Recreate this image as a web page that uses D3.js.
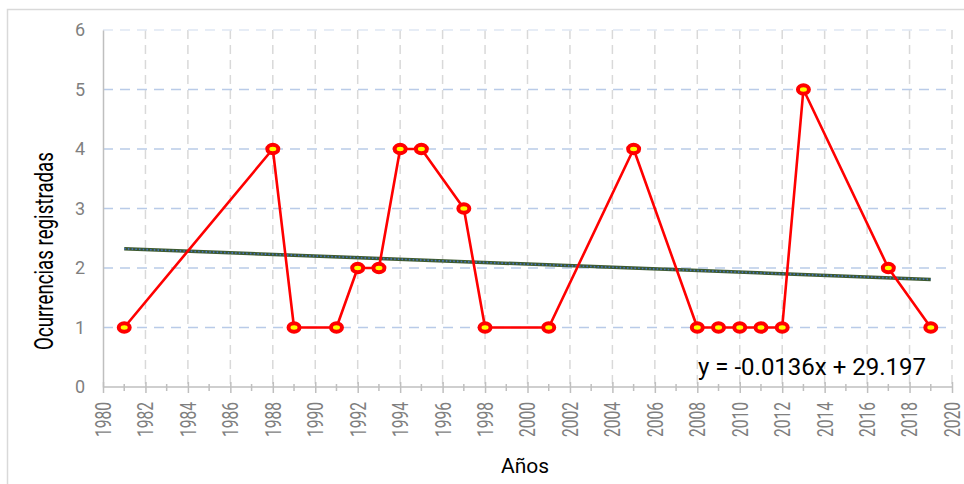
<!DOCTYPE html>
<head>
<meta charset="utf-8">
<script src="https://cdn.jsdelivr.net/npm/d3@7"></script>
<style>
  body { margin: 0; background: #fff; }
  svg { display: block; font-family: Roboto, sans-serif; }
</style>
</head>
<body>
<svg width="964" height="484"></svg>
<script>
// data
var years  = [1981, 1988, 1989, 1991, 1992, 1993, 1994, 1995, 1997, 1998,
              2001, 2005, 2008, 2009, 2010, 2011, 2012, 2013, 2017, 2019]
var counts = [1, 4, 1, 1, 2, 2, 4, 4, 3, 1,
              1, 4, 1, 1, 1, 1, 1, 5, 2, 1]
var yTicks = [0, 1, 2, 3, 4, 5, 6]
var xMajor = d3.range(1980, 2021, 2)
var xMinor = d3.range(1981, 2020, 2)
var yTitle = 'Ocurrencias registradas'
var xTitle = 'Años'

var svg = d3.select('svg')
var x = d3.scaleLinear().domain([1980, 2020]).range([103, 952])
  , y = d3.scaleLinear().domain([0, 6]).range([387, 30])

// outer frame (only top/left visible)
svg.append('rect')
  .attr('x', 7.5).attr('y', 9.5).attr('width', 1000).attr('height', 1000)
  .attr('fill', 'none').attr('stroke', '#d9d9d9').attr('stroke-width', 1.5)

// gridlines
svg.append('g').selectAll('line').data(xMajor.slice(1)).enter().append('line')
  .attr('x1', x).attr('x2', x).attr('y1', y(6)).attr('y2', y(0))
  .attr('stroke', '#d9d9d9').attr('stroke-width', 1.5).attr('stroke-dasharray', '9,6')

svg.append('g').selectAll('line').data(yTicks.slice(1)).enter().append('line')
  .attr('x1', x(1980)).attr('x2', x(2020)).attr('y1', y).attr('y2', y)
  .attr('stroke', function (d) { return d == 6 ? '#dfe7f4' : '#b9cbe8' })
  .attr('stroke-width', 1.5).attr('stroke-dasharray', '10,7')

// axes
var yAxis = svg.append('g').attr('transform', 'translate(' + x(1980) + ',0)')
  .call(d3.axisLeft(y).tickValues(yTicks).tickFormat(d3.format('d')).tickSize(0).tickPadding(18))
yAxis.select('.domain').attr('stroke', '#bfbfbf').attr('stroke-width', 1.5)
yAxis.selectAll('text').attr('font-size', 18).attr('fill', '#7f7f7f')
  .attr('font-family', 'Roboto, sans-serif')

var xAxis = svg.append('g').attr('transform', 'translate(0,' + y(0) + ')')
  .call(d3.axisBottom(x).tickValues(xMajor).tickSize(6).tickFormat(''))
xAxis.select('.domain').remove()
xAxis.append('line').attr('x1', x(1980)).attr('x2', x(2020))
  .attr('stroke', '#bfbfbf').attr('stroke-width', 1.5)
xAxis.selectAll('.tick line').attr('y1', -5).attr('y2', 6)
  .attr('stroke', '#bfbfbf').attr('stroke-width', 1.5)
xAxis.selectAll('.minor').data(xMinor).enter().append('line')
  .attr('x1', x).attr('x2', x).attr('y1', -3).attr('y2', 4)
  .attr('stroke', '#bfbfbf').attr('stroke-width', 1.5)

// rotated, condensed year labels
svg.append('g').selectAll('text').data(xMajor).enter().append('text')
  .attr('transform', function (d) { return 'translate(' + x(d) + ',402) rotate(-90) scale(1,1.45)' })
  .attr('text-anchor', 'end').attr('dy', '0.35em')
  .attr('font-size', 15.6).attr('fill', '#7f7f7f')
  .text(function (d) { return d })

// axis titles
svg.append('text')
  .attr('transform', 'translate(44,251) rotate(-90) scale(1,1.35)')
  .attr('text-anchor', 'middle').attr('dy', '0.35em')
  .attr('font-size', 18.7).attr('fill', '#000')
  .text(yTitle)

svg.append('text').attr('x', 525).attr('y', 473)
  .attr('text-anchor', 'middle').attr('font-size', 21).attr('fill', '#000')
  .text(xTitle)

// linear trend
var pts = years.map(function (d, i) { return [d, counts[i]] })
var mx = d3.mean(years), my = d3.mean(counts)
var sxy = d3.sum(pts, function (p) { return (p[0] - mx) * (p[1] - my) })
var sxx = d3.sum(years, function (d) { return (d - mx) * (d - mx) })
var slope = sxy / sxx, icpt = my - slope * mx
var ends = [years[0], years[years.length - 1]]
var trend = d3.line().x(function (d) { return x(d) }).y(function (d) { return y(slope * d + icpt) })

svg.append('path').datum(ends).attr('d', trend)
  .attr('stroke', '#3d5a30').attr('stroke-width', 3.5).attr('fill', 'none')
svg.append('path').datum(ends).attr('d', trend)
  .attr('stroke', '#4472c4').attr('stroke-width', 1.6).attr('fill', 'none')
  .attr('stroke-dasharray', '1.5,2.2')

// series
var line = d3.line().x(function (d) { return x(d[0]) }).y(function (d) { return y(d[1]) })
svg.append('path').datum(pts).attr('d', line)
  .attr('stroke', '#ff0000').attr('stroke-width', 2.6).attr('fill', 'none')
  .attr('stroke-linejoin', 'round')

svg.append('g').selectAll('ellipse').data(pts).enter().append('ellipse')
  .attr('cx', function (d) { return x(d[0]) }).attr('cy', function (d) { return y(d[1]) })
  .attr('rx', 5.5).attr('ry', 4.2).attr('fill', '#ffff00')
  .attr('stroke', '#ff0000').attr('stroke-width', 4)

// equation label
svg.append('text').attr('x', 698).attr('y', 375)
  .attr('font-size', 24).attr('fill', '#000')
  .text('y = ' + slope.toFixed(4) + 'x + ' + icpt.toFixed(3))
</script>
</body>
